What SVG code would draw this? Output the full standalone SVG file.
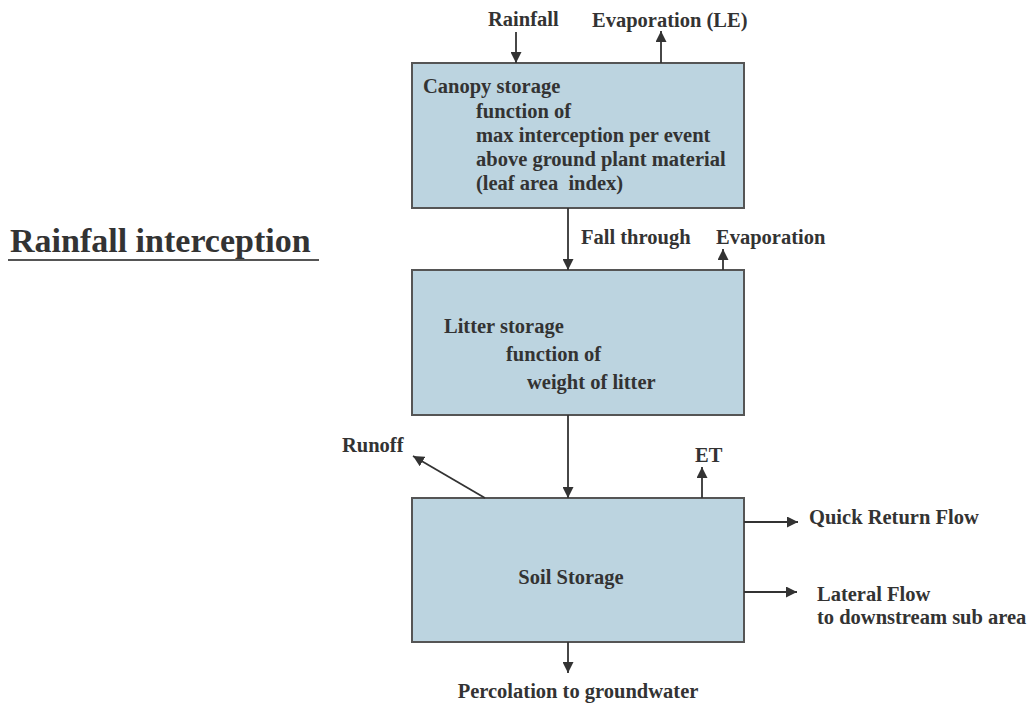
<svg xmlns="http://www.w3.org/2000/svg" width="1031" height="704" viewBox="0 0 1031 704">
<style>
text{font-family:"Liberation Serif","Times New Roman",serif;font-weight:bold;font-size:20.5px;fill:#333333}
.box{fill:#bcd4e0;stroke:#555555;stroke-width:2}
.c{fill:none;stroke:#333333;stroke-width:1.8}
.title{font-size:34px}
</style>
<defs>
<marker id="ah" viewBox="0 0 10 10" refX="10" refY="5" markerWidth="11" markerHeight="11" markerUnits="userSpaceOnUse" orient="auto">
<path d="M0,0 L10,5 L0,10 z" fill="#333333"/>
</marker>
</defs>
<rect width="1031" height="704" fill="#ffffff"/>
<g id="title">
<text class="title" x="10" y="252">Rainfall interception</text>
<line x1="8" y1="260" x2="319" y2="260" stroke="#555555" stroke-width="2"/>
</g>
<g id="canopy">
<rect class="box" x="412" y="63" width="332" height="145"/>
<text x="423" y="93">Canopy storage</text>
<text x="476" y="118">function of</text>
<text x="476" y="142">max interception per event</text>
<text x="476" y="166">above ground plant material</text>
<text x="476" y="190" xml:space="preserve">(leaf area  index)</text>
</g>
<g id="litter">
<rect class="box" x="412" y="270" width="332" height="145"/>
<text x="444" y="333">Litter storage</text>
<text x="506" y="361">function of</text>
<text x="527" y="389">weight of litter</text>
</g>
<g id="soil">
<rect class="box" x="412" y="498" width="332" height="144"/>
<text x="571" y="584" text-anchor="middle">Soil Storage</text>
</g>
<g id="labels">
<text x="488" y="26">Rainfall</text>
<text x="592" y="27">Evaporation (LE)</text>
<text x="581" y="244">Fall through</text>
<text x="716" y="244">Evaporation</text>
<text x="342" y="452">Runoff</text>
<text x="695" y="462">ET</text>
<text x="809" y="524">Quick Return Flow</text>
<text x="817" y="601">Lateral Flow</text>
<text x="817" y="624">to downstream sub area</text>
<text x="578" y="698" text-anchor="middle">Percolation to groundwater</text>
</g>
<g id="connectors">
<line class="c" x1="516" y1="32" x2="516" y2="63" marker-end="url(#ah)"/>
<line class="c" x1="661" y1="63" x2="661" y2="31" marker-end="url(#ah)"/>
<line class="c" x1="568" y1="208" x2="568" y2="270" marker-end="url(#ah)"/>
<line class="c" x1="723" y1="270" x2="723" y2="249" marker-end="url(#ah)"/>
<line class="c" x1="568" y1="415" x2="568" y2="498" marker-end="url(#ah)"/>
<line class="c" x1="485" y1="498" x2="413" y2="456" marker-end="url(#ah)"/>
<line class="c" x1="702" y1="498" x2="702" y2="467" marker-end="url(#ah)"/>
<line class="c" x1="744" y1="522" x2="798" y2="522" marker-end="url(#ah)"/>
<line class="c" x1="744" y1="592" x2="797" y2="592" marker-end="url(#ah)"/>
<line class="c" x1="568" y1="642" x2="568" y2="673" marker-end="url(#ah)"/>
</g>
</svg>
